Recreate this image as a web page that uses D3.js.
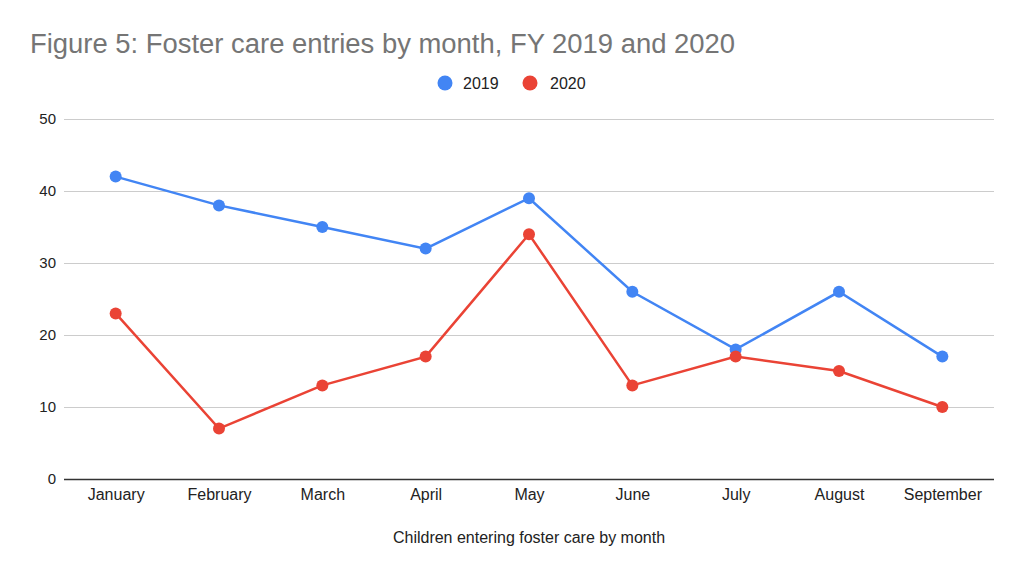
<!DOCTYPE html>
<html><head><meta charset="utf-8">
<script src="https://cdn.jsdelivr.net/npm/d3@7/dist/d3.min.js"></script>
<style>body{margin:0;background:#fff;}svg{display:block;font-family:Arial,"Liberation Sans",sans-serif;}</style>
</head><body>
<svg id="c" width="1023" height="574"></svg>
<script>
const months = ["January","February","March","April","May","June","July","August","September"];
const series2019 = [42,38,35,32,39,26,18,26,17];
const series2020 = [23,7,13,17,34,13,17,15,10];
const yTicks = [0,10,20,30,40,50];
const seriesNames = ["2019","2020"];
const colors = ["#4285F4","#EA4335"];

(function(){
const svg = d3.select("#c");
const pLeft = 64, pRight = 994, pTop = 119, pBottom = 479;
const x = d3.scalePoint().domain(months).range([pLeft, pRight]).padding(0.5);
const y = d3.scaleLinear().domain([0,50]).range([pBottom, pTop]);
const ff = "Arial,'Liberation Sans',sans-serif";

svg.append("text").attr("x",30).attr("y",53).attr("font-size",27).attr("fill","#757575")
  .attr("textLength",705).attr("lengthAdjust","spacingAndGlyphs")
  .text("Figure 5: Foster care entries by month, FY 2019 and 2020");

const yAxis = d3.axisLeft(y).tickValues(yTicks).tickSize(-(pRight-pLeft)).tickPadding(8);
const ga = svg.append("g").attr("transform",`translate(${pLeft},0)`).call(yAxis);
ga.select(".domain").remove();
ga.selectAll(".tick line").attr("stroke","#cccccc").attr("stroke-width",1);
ga.selectAll(".tick text").attr("font-size",15).attr("fill","#222").attr("font-family",ff);
ga.selectAll(".tick").filter(d=>d===0).select("line").attr("stroke","#333").attr("stroke-width",1.5);

const xAxis = d3.axisBottom(x).tickSize(0).tickPadding(10);
const gx = svg.append("g").attr("transform",`translate(0,${pBottom})`).call(xAxis);
gx.select(".domain").remove();
gx.selectAll(".tick text").attr("font-size",16).attr("fill","#222").attr("font-family",ff);

svg.append("text").attr("x",529).attr("y",543).attr("text-anchor","middle").attr("font-size",16).attr("fill","#222").text("Children entering foster care by month");

const all = [series2019, series2020];
const line = d3.line().x((d,i)=>x(months[i])).y(d=>y(d));
all.forEach((s,k)=>{
  svg.append("path").datum(s).attr("d",line).attr("fill","none").attr("stroke",colors[k]).attr("stroke-width",2.5);
  svg.selectAll(null).data(s).enter().append("circle").attr("cx",(d,i)=>x(months[i])).attr("cy",d=>y(d)).attr("r",6).attr("fill",colors[k]);
});

const leg = [[445,463],[530,550]];
seriesNames.forEach((n,k)=>{
  svg.append("circle").attr("cx",leg[k][0]).attr("cy",83).attr("r",7.5).attr("fill",colors[k]);
  svg.append("text").attr("x",leg[k][1]).attr("y",89).attr("font-size",16).attr("fill","#222").text(n);
});
})();
</script>
</body></html>
